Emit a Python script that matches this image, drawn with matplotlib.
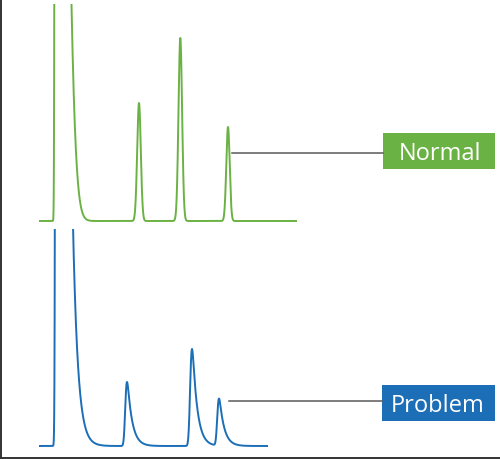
import math
import numpy as np
import matplotlib
matplotlib.use("Agg")
import matplotlib.pyplot as plt
from matplotlib.patches import Rectangle

# ---- data (x in arbitrary time units, y in detector units) ----
normal_range = [39, 297]
normal_apex = [55.4, 139.0, 180.3, 228.0]
normal_height = [1300, 118, 183, 94]
normal_sigma_left = [0.6, 1.8, 1.8, 1.7]
normal_sigma_right = [8.5, 1.8, 1.8, 1.7]

problem_range = [39, 268]
problem_apex = [57.5, 127.0, 192.0, 219.0]
problem_height = [4500, 64, 97, 47]
problem_sigma = [0.8, 1.2, 1.3, 1.2]
problem_tau = [5.0, 4.8, 4.8, 4.8]

labels = ["Normal", "Problem"]

GREEN = "#6BB244"
BLUE = "#1C6EB7"
GREY = "#5a5a5a"

erfc = np.vectorize(math.erfc)


def bigauss(x, apex, height, sl, sr):
    s = np.where(x < apex, sl, sr)
    return height * np.exp(-0.5 * ((x - apex) / s) ** 2)


def emg(x, apex, height, sigma, tau):
    def raw(t):
        return np.exp(sigma ** 2 / (2 * tau ** 2) - t / tau) * erfc((sigma / tau - t / sigma) / np.sqrt(2))
    tt = np.linspace(-5 * sigma, 5 * sigma + 3 * tau, 4001)
    r = raw(tt)
    t0 = tt[np.argmax(r)]
    return height * raw(x - apex + t0) / r.max()


x1 = np.linspace(normal_range[0], normal_range[1], 4000)
y1 = np.zeros_like(x1)
for a, h, sl, sr in zip(normal_apex, normal_height, normal_sigma_left, normal_sigma_right):
    y1 += bigauss(x1, a, h, sl, sr)

x2 = np.linspace(problem_range[0], problem_range[1], 4000)
y2 = np.zeros_like(x2)
for a, h, s, t in zip(problem_apex, problem_height, problem_sigma, problem_tau):
    y2 += emg(x2, a, h, s, t)

W, H = 500, 460
fig = plt.figure(figsize=(5, 4.6), dpi=100)

# top panel: pixels 5..228, bottom panel: pixels 230..453
ax1 = fig.add_axes([0, (H - 228) / H, 1, 223 / H])
ax2 = fig.add_axes([0, (H - 453) / H, 1, 223 / H])
for ax in (ax1, ax2):
    ax.set_xlim(0, W)
    ax.set_ylim(-6, 217)
    ax.axis("off")

ax1.plot(x1, y1, color=GREEN, lw=1.4, solid_capstyle="butt")
ax2.plot(x2, y2, color=BLUE, lw=1.4, solid_capstyle="butt")

# label connectors and boxes
ax1.plot([232, 383], [68, 68], color=GREY, lw=1.1)
ax1.add_patch(Rectangle((383, 52), 112, 36, facecolor=GREEN, edgecolor="none"))
ax1.text(440, 68, labels[0], color="white", fontsize=17, family="Open Sans",
         ha="center", va="center")

ax2.plot([229, 382], [45, 45], color=GREY, lw=1.1)
ax2.add_patch(Rectangle((382, 25), 113, 36, facecolor=BLUE, edgecolor="none"))
ax2.text(438, 41, labels[1], color="white", fontsize=17, family="Open Sans",
         ha="center", va="center")

# frame: left and bottom lines
axf = fig.add_axes([1 / W, 1.5 / H, 1, 1])
axf.patch.set_visible(False)
axf.set_xticks([])
axf.set_yticks([])
for side in ("top", "right"):
    axf.spines[side].set_visible(False)
for side in ("left", "bottom"):
    axf.spines[side].set_color("#333333")
    axf.spines[side].set_linewidth(1.4)

fig.savefig("out.png", dpi=100)
